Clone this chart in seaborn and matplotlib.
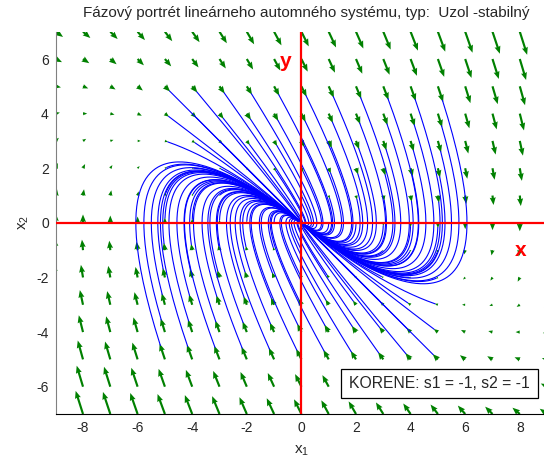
import numpy as np
import pandas as pd
import matplotlib
matplotlib.use("Agg")
import matplotlib.pyplot as plt
from matplotlib.patches import Rectangle
import seaborn as sns

# ---- data ----
A = [[0.0, 1.0], [-1.0, -2.0]]          # system matrix (s1 = s2 = -1)
eigenvalue = -1.0
start_x1 = [-5, -4, -3, -2, -1, 0, 1, 2, 3, 4, 5]
start_x2 = [-5, -4, -3, -2, -1, 0, 1, 2, 3, 4, 5]
t_start, t_end = 0.035, 12.0
grid_x1 = [-9, -8, -7, -6, -5, -4, -3, -2, -1, 0, 1, 2, 3, 4, 5, 6, 7, 8, 9]
grid_x2 = [-7, -6, -5, -4, -3, -2, -1, 0, 1, 2, 3, 4, 5, 6, 7]
xticks = [-8, -6, -4, -2, 0, 2, 4, 6, 8]
yticks = [-6, -4, -2, 0, 2, 4, 6]
title = "Fázový portrét lineárneho automného systému, typ:  Uzol -stabilný"
roots_text = "KORENE: s1 = -1, s2 = -1"

sns.set_style("white")
plt.rcParams["font.family"] = ["Liberation Sans", "DejaVu Sans"]
plt.rcParams["mathtext.default"] = "regular"
plt.rcParams["axes.unicode_minus"] = False

Am = np.array(A)
Nm = Am - eigenvalue * np.eye(2)
t = np.linspace(t_start, t_end, 500)
rows = []
k = 0
for a in start_x1:
    for b in start_x2:
        p0 = np.array([a, b], dtype=float)
        Np = Nm @ p0
        xs = np.exp(eigenvalue * t) * (p0[0] + t * Np[0])
        ys = np.exp(eigenvalue * t) * (p0[1] + t * Np[1])
        rows.append(pd.DataFrame({"x1": xs, "x2": ys, "traj": k}))
        k += 1
df = pd.concat(rows, ignore_index=True)

fig = plt.figure(figsize=(5.44, 4.63), dpi=100)
ax = fig.add_axes([55.7 / 544, 49 / 463, 491.4 / 544, 382.3 / 463])

GX, GY = np.meshgrid(np.array(grid_x1, float), np.array(grid_x2, float))
U = Am[0, 0] * GX + Am[0, 1] * GY
V = Am[1, 0] * GX + Am[1, 1] * GY
ax.quiver(GX, GY, U, V, angles="xy", scale_units="xy", scale=26, color=(0, 0.5, 0),
          width=0.0044, headwidth=2.8, headlength=3.5, headaxislength=3.2,
          minlength=0.5, zorder=2)

sns.lineplot(data=df, x="x1", y="x2", units="traj", estimator=None, sort=False,
             color=(0, 0, 1), lw=0.8, ax=ax, legend=False, zorder=3)

ax.axhline(0, color="red", lw=1.6, zorder=4)
ax.axvline(0, color="red", lw=1.6, zorder=4)

ax.set_xlim(-9, 9)
ax.set_ylim(-7, 7)
ax.set_xticks(xticks)
ax.set_yticks(yticks)
ax.tick_params(direction="in", length=3, labelsize=10, pad=5)
for s in ["top", "right"]:
    ax.spines[s].set_visible(False)
ax.spines["left"].set_color("0.5")
ax.spines["bottom"].set_color("black")
ax.set_xlabel("$x_1$", fontsize=11, labelpad=6)
ax.set_ylabel("$x_2$", fontsize=11, labelpad=4)

ax.text(-0.59, 5.9, "y", color="red", fontsize=15, fontweight="bold", ha="center", va="center", zorder=5)
ax.text(8.03, -1.03, "x", color="red", fontsize=15, fontweight="bold", ha="center", va="center", zorder=5)

box = Rectangle((340.7 / 544, (463 - 398.3) / 463), 197.6 / 544, 29 / 463,
                transform=fig.transFigure, facecolor="white", edgecolor="black",
                lw=0.9, zorder=6, clip_on=False)
ax.add_patch(box)
fig.text(439.5 / 544, 1 - 384 / 463, roots_text, fontsize=11.3, ha="center", va="center", zorder=7)

fig.text(306 / 544, 1 - 13 / 463, title, fontsize=11, ha="center", va="center")

fig.savefig("out.png", dpi=100)
